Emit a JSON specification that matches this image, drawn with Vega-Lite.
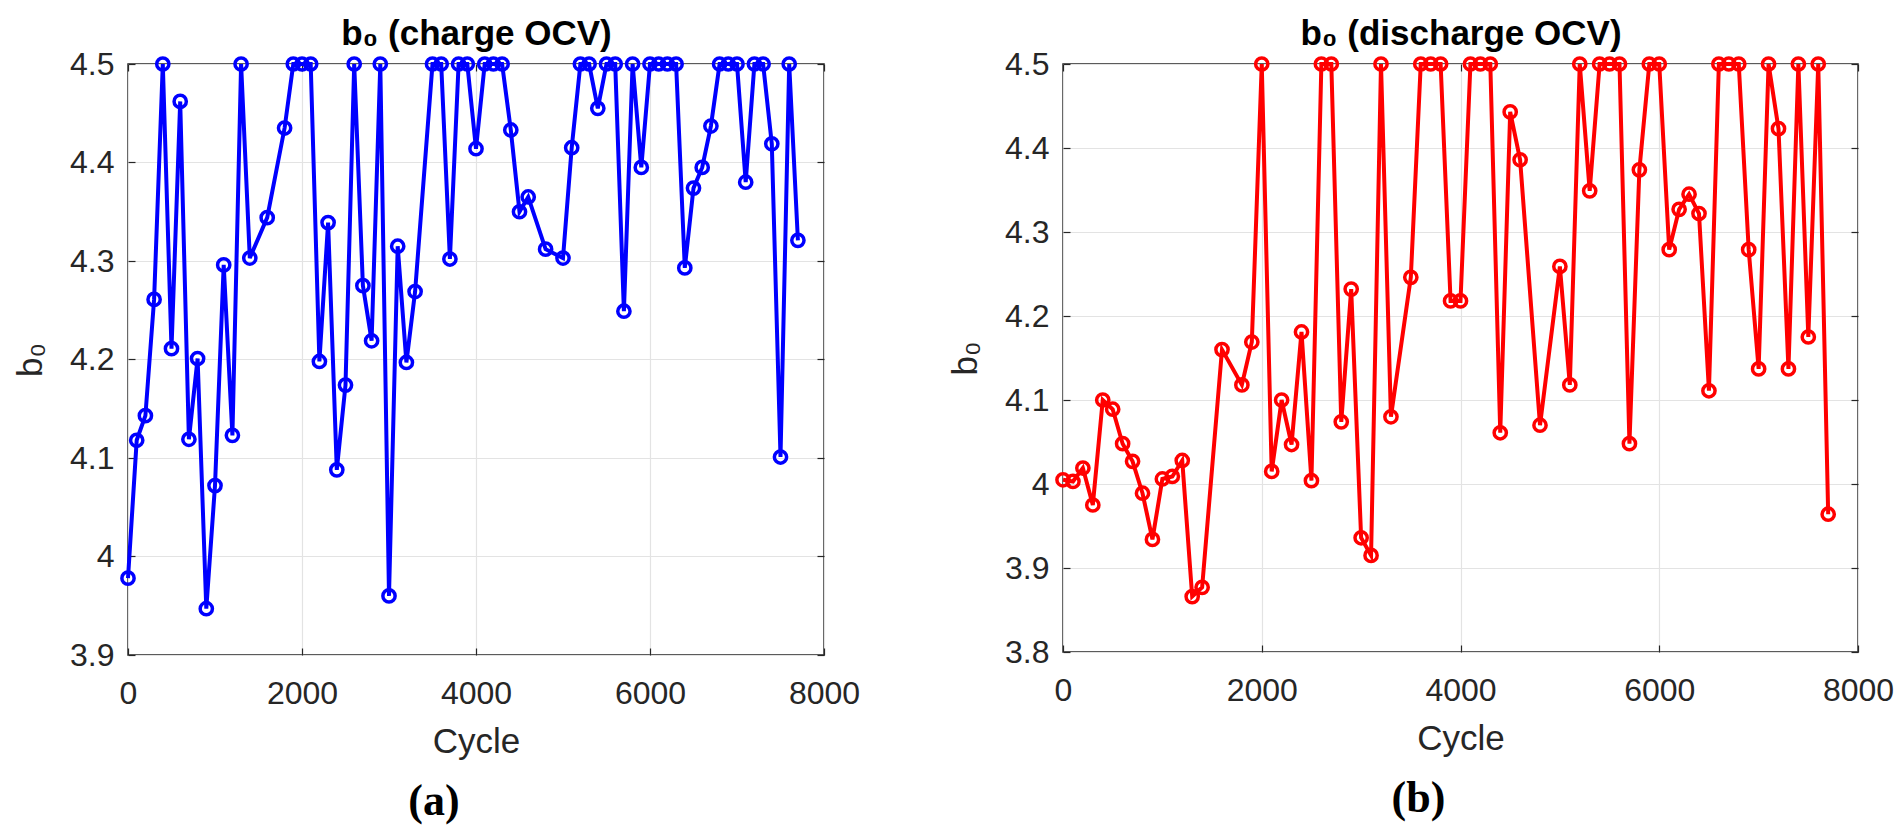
{
  "$schema": "https://vega.github.io/schema/vega-lite/v6.json",
  "background": "white",
  "padding": {"left": 12, "top": 15, "right": 5, "bottom": 5},
  "datasets": {
    "charge": [
      {"cycle": 0, "b0": 3.978}, {"cycle": 100, "b0": 4.118}, {"cycle": 200, "b0": 4.143}, {"cycle": 300, "b0": 4.261},
      {"cycle": 400, "b0": 4.5}, {"cycle": 500, "b0": 4.211}, {"cycle": 600, "b0": 4.462}, {"cycle": 700, "b0": 4.119},
      {"cycle": 800, "b0": 4.201}, {"cycle": 900, "b0": 3.947}, {"cycle": 1000, "b0": 4.072}, {"cycle": 1100, "b0": 4.296},
      {"cycle": 1200, "b0": 4.123}, {"cycle": 1300, "b0": 4.5}, {"cycle": 1400, "b0": 4.303}, {"cycle": 1600, "b0": 4.344},
      {"cycle": 1800, "b0": 4.435}, {"cycle": 1900, "b0": 4.5}, {"cycle": 2000, "b0": 4.5}, {"cycle": 2100, "b0": 4.5},
      {"cycle": 2200, "b0": 4.198}, {"cycle": 2300, "b0": 4.339}, {"cycle": 2400, "b0": 4.088}, {"cycle": 2500, "b0": 4.174},
      {"cycle": 2600, "b0": 4.5}, {"cycle": 2700, "b0": 4.275}, {"cycle": 2800, "b0": 4.219}, {"cycle": 2900, "b0": 4.5},
      {"cycle": 3000, "b0": 3.96}, {"cycle": 3100, "b0": 4.315}, {"cycle": 3200, "b0": 4.197}, {"cycle": 3300, "b0": 4.269},
      {"cycle": 3500, "b0": 4.5}, {"cycle": 3600, "b0": 4.5}, {"cycle": 3700, "b0": 4.302}, {"cycle": 3800, "b0": 4.5},
      {"cycle": 3900, "b0": 4.5}, {"cycle": 4000, "b0": 4.414}, {"cycle": 4100, "b0": 4.5}, {"cycle": 4200, "b0": 4.5},
      {"cycle": 4300, "b0": 4.5}, {"cycle": 4400, "b0": 4.433}, {"cycle": 4500, "b0": 4.35}, {"cycle": 4600, "b0": 4.365},
      {"cycle": 4800, "b0": 4.312}, {"cycle": 5000, "b0": 4.303}, {"cycle": 5100, "b0": 4.415}, {"cycle": 5200, "b0": 4.5},
      {"cycle": 5300, "b0": 4.5}, {"cycle": 5400, "b0": 4.455}, {"cycle": 5500, "b0": 4.5}, {"cycle": 5600, "b0": 4.5},
      {"cycle": 5700, "b0": 4.249}, {"cycle": 5800, "b0": 4.5}, {"cycle": 5900, "b0": 4.395}, {"cycle": 6000, "b0": 4.5},
      {"cycle": 6100, "b0": 4.5}, {"cycle": 6200, "b0": 4.5}, {"cycle": 6300, "b0": 4.5}, {"cycle": 6400, "b0": 4.293},
      {"cycle": 6500, "b0": 4.374}, {"cycle": 6600, "b0": 4.395}, {"cycle": 6700, "b0": 4.437}, {"cycle": 6800, "b0": 4.5},
      {"cycle": 6900, "b0": 4.5}, {"cycle": 7000, "b0": 4.5}, {"cycle": 7100, "b0": 4.38}, {"cycle": 7200, "b0": 4.5},
      {"cycle": 7300, "b0": 4.5}, {"cycle": 7400, "b0": 4.419}, {"cycle": 7500, "b0": 4.101}, {"cycle": 7600, "b0": 4.5},
      {"cycle": 7700, "b0": 4.321}
    ],
    "discharge": [
      {"cycle": 0, "b0": 4.005}, {"cycle": 100, "b0": 4.003}, {"cycle": 200, "b0": 4.019}, {"cycle": 300, "b0": 3.975},
      {"cycle": 400, "b0": 4.1}, {"cycle": 500, "b0": 4.089}, {"cycle": 600, "b0": 4.048}, {"cycle": 700, "b0": 4.027},
      {"cycle": 800, "b0": 3.989}, {"cycle": 900, "b0": 3.934}, {"cycle": 1000, "b0": 4.006}, {"cycle": 1100, "b0": 4.009},
      {"cycle": 1200, "b0": 4.028}, {"cycle": 1300, "b0": 3.866}, {"cycle": 1400, "b0": 3.877}, {"cycle": 1600, "b0": 4.16},
      {"cycle": 1800, "b0": 4.118}, {"cycle": 1900, "b0": 4.169}, {"cycle": 2000, "b0": 4.5}, {"cycle": 2100, "b0": 4.015},
      {"cycle": 2200, "b0": 4.1}, {"cycle": 2300, "b0": 4.047}, {"cycle": 2400, "b0": 4.181}, {"cycle": 2500, "b0": 4.004},
      {"cycle": 2600, "b0": 4.5}, {"cycle": 2700, "b0": 4.5}, {"cycle": 2800, "b0": 4.074}, {"cycle": 2900, "b0": 4.232},
      {"cycle": 3000, "b0": 3.936}, {"cycle": 3100, "b0": 3.915}, {"cycle": 3200, "b0": 4.5}, {"cycle": 3300, "b0": 4.08},
      {"cycle": 3500, "b0": 4.246}, {"cycle": 3600, "b0": 4.5}, {"cycle": 3700, "b0": 4.5}, {"cycle": 3800, "b0": 4.5},
      {"cycle": 3900, "b0": 4.218}, {"cycle": 4000, "b0": 4.218}, {"cycle": 4100, "b0": 4.5}, {"cycle": 4200, "b0": 4.5},
      {"cycle": 4300, "b0": 4.5}, {"cycle": 4400, "b0": 4.061}, {"cycle": 4500, "b0": 4.443}, {"cycle": 4600, "b0": 4.386},
      {"cycle": 4800, "b0": 4.07}, {"cycle": 5000, "b0": 4.259}, {"cycle": 5100, "b0": 4.118}, {"cycle": 5200, "b0": 4.5},
      {"cycle": 5300, "b0": 4.349}, {"cycle": 5400, "b0": 4.5}, {"cycle": 5500, "b0": 4.5}, {"cycle": 5600, "b0": 4.5},
      {"cycle": 5700, "b0": 4.048}, {"cycle": 5800, "b0": 4.374}, {"cycle": 5900, "b0": 4.5}, {"cycle": 6000, "b0": 4.5},
      {"cycle": 6100, "b0": 4.279}, {"cycle": 6200, "b0": 4.327}, {"cycle": 6300, "b0": 4.345}, {"cycle": 6400, "b0": 4.322},
      {"cycle": 6500, "b0": 4.111}, {"cycle": 6600, "b0": 4.5}, {"cycle": 6700, "b0": 4.5}, {"cycle": 6800, "b0": 4.5},
      {"cycle": 6900, "b0": 4.279}, {"cycle": 7000, "b0": 4.137}, {"cycle": 7100, "b0": 4.5}, {"cycle": 7200, "b0": 4.423},
      {"cycle": 7300, "b0": 4.137}, {"cycle": 7400, "b0": 4.5}, {"cycle": 7500, "b0": 4.175}, {"cycle": 7600, "b0": 4.5},
      {"cycle": 7700, "b0": 3.964}
    ]
  },
  "spacing": 86,
  "hconcat": [
    {
      "title": {"text": "(a)", "orient": "bottom", "frame": "group", "dx": -42},
      "width": 696,
      "height": 591,
      "data": {"name": "charge"},
      "layer": [
        {
          "mark": {"type": "line", "color": "#0000ff", "strokeWidth": 4},
          "encoding": {
            "x": {
              "field": "cycle", "type": "quantitative",
              "scale": {"domain": [0, 8000], "nice": false},
              "axis": {"values": [0, 2000, 4000, 6000, 8000], "format": "d", "title": "Cycle", "labelPadding": 30, "titlePadding": 15}
            },
            "y": {
              "field": "b0", "type": "quantitative",
              "scale": {"domain": [3.9, 4.5], "nice": false, "zero": false},
              "axis": {"values": [3.9, 4.0, 4.1, 4.2, 4.3, 4.4, 4.5], "format": ".1~f", "title": "b₀"}
            }
          }
        },
        {
          "mark": {"type": "point", "shape": "circle", "filled": false, "color": "#0000ff", "size": 150, "strokeWidth": 3.5, "opacity": 1},
          "encoding": {
            "x": {
              "field": "cycle", "type": "quantitative",
              "scale": {"domain": [0, 8000], "nice": false},
              "axis": {"orient": "top", "values": [0, 2000, 4000, 6000, 8000], "labels": false, "grid": false,
                       "title": "b₀ (charge OCV)", "titleFontWeight": "bold", "titleFontSize": 35, "titleColor": "black", "titlePadding": 12}
            },
            "y": {
              "field": "b0", "type": "quantitative",
              "scale": {"domain": [3.9, 4.5], "nice": false, "zero": false},
              "axis": {"orient": "right", "values": [3.9, 4.0, 4.1, 4.2, 4.3, 4.4, 4.5], "labels": false, "grid": false, "title": null}
            }
          }
        }
      ],
      "resolve": {"axis": {"x": "independent", "y": "independent"}}
    },
    {
      "title": {"text": "(b)", "orient": "bottom", "frame": "group", "dx": -42},
      "width": 795,
      "height": 588,
      "data": {"name": "discharge"},
      "layer": [
        {
          "mark": {"type": "line", "color": "#ff0000", "strokeWidth": 4},
          "encoding": {
            "x": {
              "field": "cycle", "type": "quantitative",
              "scale": {"domain": [0, 8000], "nice": false},
              "axis": {"values": [0, 2000, 4000, 6000, 8000], "format": "d", "title": "Cycle", "labelPadding": 30, "titlePadding": 15}
            },
            "y": {
              "field": "b0", "type": "quantitative",
              "scale": {"domain": [3.8, 4.5], "nice": false, "zero": false},
              "axis": {"values": [3.8, 3.9, 4.0, 4.1, 4.2, 4.3, 4.4, 4.5], "format": ".1~f", "title": "b₀"}
            }
          }
        },
        {
          "mark": {"type": "point", "shape": "circle", "filled": false, "color": "#ff0000", "size": 150, "strokeWidth": 3.5, "opacity": 1},
          "encoding": {
            "x": {
              "field": "cycle", "type": "quantitative",
              "scale": {"domain": [0, 8000], "nice": false},
              "axis": {"orient": "top", "values": [0, 2000, 4000, 6000, 8000], "labels": false, "grid": false,
                       "title": "b₀ (discharge OCV)", "titleFontWeight": "bold", "titleFontSize": 35, "titleColor": "black", "titlePadding": 12}
            },
            "y": {
              "field": "b0", "type": "quantitative",
              "scale": {"domain": [3.8, 4.5], "nice": false, "zero": false},
              "axis": {"orient": "right", "values": [3.8, 3.9, 4.0, 4.1, 4.2, 4.3, 4.4, 4.5], "labels": false, "grid": false, "title": null}
            }
          }
        }
      ],
      "resolve": {"axis": {"x": "independent", "y": "independent"}}
    }
  ],
  "config": {
    "font": "Liberation Sans",
    "view": {"stroke": "#262626", "strokeWidth": 1.5},
    "axis": {
      "domain": false,
      "labelFont": "Liberation Sans",
      "labelFontSize": 32,
      "labelColor": "#262626",
      "labelPadding": 21,
      "labelFlush": false,
      "labelOverlap": false,
      "tickSize": -7,
      "tickColor": "#262626",
      "tickWidth": 1.2,
      "gridColor": "#e3e3e3",
      "gridWidth": 1.2,
      "titleFont": "Liberation Sans",
      "titleFontSize": 35,
      "titleFontWeight": "normal",
      "titleColor": "#262626",
      "titlePadding": 21
    },
    "title": {
      "font": "Liberation Serif",
      "fontSize": 44,
      "fontWeight": "bold",
      "color": "black",
      "offset": 21
    }
  }
}
